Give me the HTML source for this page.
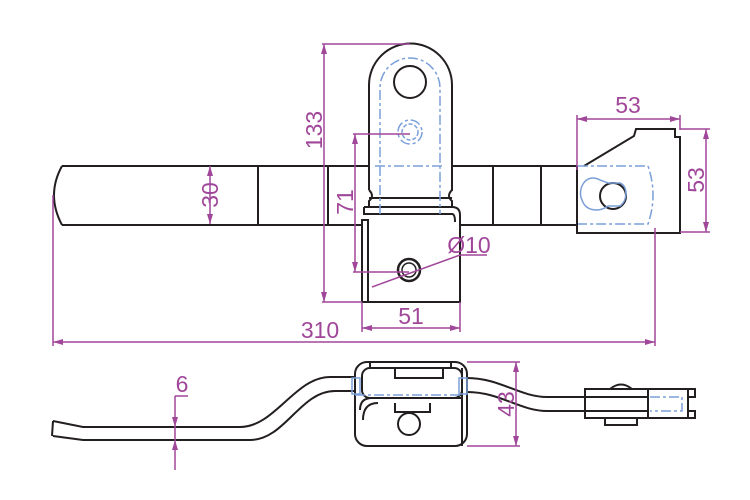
<!DOCTYPE html>
<html><head><meta charset="utf-8"><style>html,body{margin:0;padding:0;background:#fff}svg{display:block}</style></head><body>
<svg width="750" height="500" viewBox="0 0 750 500" xmlns="http://www.w3.org/2000/svg" font-family="Liberation Sans, sans-serif">
<g fill="none" stroke="#231f20" stroke-width="2">
<!-- bar -->
<path d="M62 166 L369 166 M452 166 L577 166 M62 225 L362 225 M460 225 L577 225"/>
<path d="M62 166 Q46 195 62 225"/>
<path d="M258 166V225 M328 166V225 M493 166V225 M541 166V225"/>
<!-- tab -->
<path d="M369 190 L369 85 A41 41 0 0 1 452 85 L452 190 Q446 196 452 201 L452 207 M369 190 Q375 196 369 201 L369 207"/>
<circle cx="410" cy="82" r="16"/>
<path d="M369 198 H452"/>
<path d="M364 207 H452 Q460 207 460 215 V302 H362 V220 H368 V302"/>
<path d="M364 207 V214 H452 Q455 214 455 222"/>
<circle cx="409" cy="270" r="11" stroke-width="2.5"/>
<circle cx="409" cy="270" r="7" stroke-width="1.5"/>
<!-- right latch -->
<path d="M577 166 V233 H680 V137 L675 137 L675 129 L636 129 L634 136 L584 166"/>
<circle cx="613" cy="196" r="13"/>
<!-- bottom lever left -->
<path d="M53 421 L83 427 L240 427 C275 427 295 377 330 377 L355 377"/>
<path d="M53 436 L83 440 L250 440 C285 440 300 391 335 391 L355 391"/>
<path d="M53 421 L52 436"/>
<!-- housing -->
<rect x="355" y="362" width="112" height="84" rx="12"/>
<rect x="362" y="368" width="100" height="30" rx="8"/>
<path d="M360 410 Q360 398 372 398 H462 M363 420 Q363 403 378 403"/>
<path d="M370 362 V368 M451 362 V368 M395 368 V378 H443 V368 M395 403 V412 H430 V403"/>
<path d="M462 368 V446"/>
<circle cx="409" cy="424" r="11"/>
<path d="M467 378 C500 378 520 397 547 397 L585 397 M467 392 C500 392 520 411 547 411 L585 411"/>
<!-- clevis -->
<path d="M585 389 H688 V418 H585 Z M648 389 V418 M585 397 H648 M585 411 H648"/>
<path d="M688 389 H695 V397 H688 M688 411 H695 V418 H688"/>
<path d="M605 418 V425 H637 V418"/>
<path d="M610 389 Q621 380 632 389"/>
</g>
<!-- blue hidden -->
<g fill="none" stroke="#7a9fd8" stroke-width="1.5" stroke-dasharray="10 3 3 3">
<path d="M380 214 V88 A30 30 0 0 1 440 88 V214"/>
<path d="M375 166 H445"/>
<circle cx="410" cy="132" r="12"/>
<circle cx="410" cy="132" r="8" stroke-dasharray="4 2"/>
<path d="M578 166 H648 Q658 195 648 224 H578"/>
<path d="M600 180 C585 172 577 190 582 200 C586 212 600 212 608 206 L620 206 C628 200 628 186 620 183 L608 183 Z" stroke-dasharray="none"/>
<path d="M355 395 H460" />
<path d="M650 397 H682 V411 H650"/>
</g>
<g fill="none" stroke="#7a9fd8" stroke-width="1.5">
<rect x="352" y="378" width="8" height="16"/><rect x="459" y="378" width="8" height="16"/>
</g>
<!-- dimensions -->
<g fill="none" stroke="#a0479a" stroke-width="1.5">
<path d="M322 44 H410 M322 302 H362 M324 44 V302"/>
<path d="M353 134 H410 M353 272 H409 M355 134 V272"/>
<path d="M372 287 L460 255 H487"/>
<path d="M362 302 V332 M460 302 V332 M362 328 H460"/>
<path d="M53 195 V346 M655 228 V346 M53 342 H655"/>
<path d="M210 166 V224"/>
<path d="M577 115 V170 M680 115 V130 M577 119 H680"/>
<path d="M680 129 H710 M680 232 H710 M706 129 V232"/>
<path d="M175 396 H188 M175 396 V470"/>
<path d="M467 362 H520 M467 446 H520 M516 362 V446"/>
</g>
<g fill="#a0479a">
<path d="M324 44 l-3 10 h6Z M324 302 l-3 -10 h6Z M355 134 l-3 10 h6Z M355 272 l-3 -10 h6Z"/>
<path d="M362 328 l10 -3 v6Z M460 328 l-10 -3 v6Z M53 342 l10 -3 v6Z M655 342 l-10 -3 v6Z"/>
<path d="M210 166 l-3 10 h6Z M210 224 l-3 -10 h6Z M577 119 l10 -3 v6Z M680 119 l-10 -3 v6Z"/>
<path d="M706 129 l-3 10 h6Z M706 232 l-3 -10 h6Z M175 427 l-3 -10 h6Z M175 440 l-3 10 h6Z"/>
<path d="M516 362 l-3 10 h6Z M516 446 l-3 -10 h6Z"/>
</g>
<g fill="#a0479a" font-size="23">
<text x="322" y="130" transform="rotate(-90 322 130)" text-anchor="middle">133</text>
<text x="353" y="202" transform="rotate(-90 353 202)" text-anchor="middle">71</text>
<text x="218" y="195" transform="rotate(-90 218 195)" text-anchor="middle">30</text>
<text x="704" y="180" transform="rotate(-90 704 180)" text-anchor="middle">53</text>
<text x="514" y="404" transform="rotate(-90 514 404)" text-anchor="middle">43</text>
<text x="469" y="253" text-anchor="middle">Ø10</text>
<text x="411" y="324" text-anchor="middle">51</text>
<text x="320" y="338" text-anchor="middle">310</text>
<text x="628" y="113" text-anchor="middle">53</text>
<text x="182" y="392" text-anchor="middle">6</text>
</g>
</svg>
</body></html>
